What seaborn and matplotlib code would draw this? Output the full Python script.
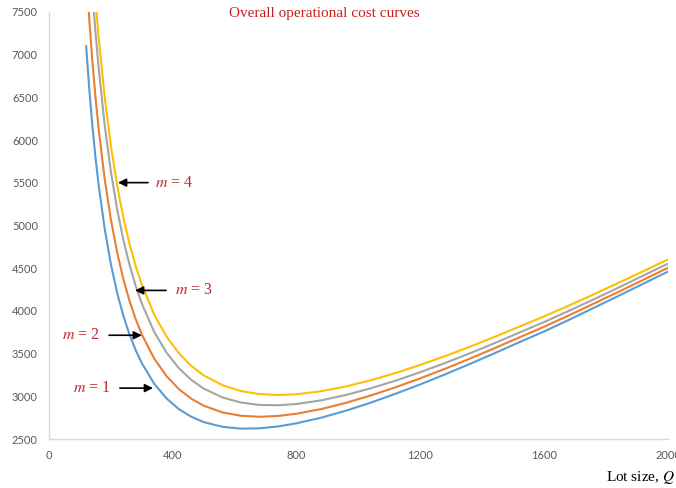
import numpy as np
import pandas as pd
import matplotlib
matplotlib.use("Agg")
import matplotlib.pyplot as plt
import seaborn as sns

# Lot size Q
lot_size = [120, 130, 140, 150, 160, 180, 200, 220, 240, 260, 280, 300, 340, 380,
            420, 460, 500, 560, 620, 680, 740, 800, 880, 960, 1040, 1120, 1200,
            1280, 1360, 1440, 1520, 1600, 1680, 1760, 1840, 1920, 2000]

cost_m1 = [7104, 6601, 6173, 5805, 5485, 4959, 4546, 4215, 3946, 3725, 3541, 3387,
           3147, 2974, 2849, 2760, 2698, 2643, 2621, 2625, 2647, 2684, 2750, 2832,
           2926, 3030, 3140, 3257, 3379, 3505, 3634, 3760, 3895, 4035, 4176, 4318, 4461]
cost_m2 = [7995, 7421, 6932, 6511, 6145, 5542, 5068, 4687, 4376, 4119, 3905, 3724,
           3441, 3235, 3083, 2971, 2890, 2812, 2772, 2760, 2770, 2796, 2851, 2924,
           3010, 3106, 3211, 3323, 3441, 3564, 3690, 3815, 3948, 4085, 4223, 4364, 4505]
cost_m3 = [8965, 8312, 7756, 7277, 6860, 6172, 5630, 5193, 4837, 4541, 4293, 4084,
           3753, 3510, 3328, 3191, 3090, 2987, 2927, 2899, 2895, 2910, 2953, 3016,
           3094, 3183, 3283, 3390, 3504, 3623, 3747, 3870, 4001, 4135, 4272, 4413, 4553]
cost_m4 = [9422, 8740, 8158, 7656, 7220, 6499, 5931, 5473, 5098, 4787, 4526, 4306,
           3956, 3697, 3503, 3356, 3245, 3131, 3061, 3026, 3015, 3024, 3060, 3116,
           3188, 3273, 3368, 3471, 3580, 3696, 3816, 3936, 4063, 4194, 4328, 4465, 4603]

series_names = ["m = 1", "m = 2", "m = 3", "m = 4"]
series_colors = ["#5B9BD5", "#ED7D31", "#A5A5A5", "#FFC000"]

x_ticks = [0, 400, 800, 1200, 1600, 2000]
y_ticks = [2500, 3000, 3500, 4000, 4500, 5000, 5500, 6000, 6500, 7000, 7500]

title_text = "Overall operational cost curves"
xlabel_text = "Lot size, $Q$"

df = pd.concat([
    pd.DataFrame({"Q": lot_size, "cost": vals, "series": name})
    for name, vals in zip(series_names, [cost_m1, cost_m2, cost_m3, cost_m4])
], ignore_index=True)

sns.set_style("white")
plt.rcParams["font.family"] = ["Lato", "DejaVu Sans"]
plt.rcParams["mathtext.fontset"] = "stix"

fig = plt.figure(figsize=(6.76, 4.88), dpi=100)
ax = fig.add_axes([49 / 676, 49 / 488, (668 - 49) / 676, (439 - 12) / 488])

sns.lineplot(data=df, x="Q", y="cost", hue="series", hue_order=series_names,
             palette=series_colors, linewidth=1.5, legend=False, ax=ax,
             sort=False, estimator=None)

ax.set_xlim(0, 2000)
ax.set_ylim(2500, 7500)
ax.set_xticks(x_ticks)
ax.set_yticks(y_ticks)
ax.set_xlabel("")
ax.set_ylabel("")
ax.tick_params(axis="both", length=0, labelsize=8, labelcolor="#595959", pad=8)
for s in ["top", "right"]:
    ax.spines[s].set_visible(False)
for s in ["left", "bottom"]:
    ax.spines[s].set_color("#D9D9D9")
    ax.spines[s].set_linewidth(1.0)

red = "#C0242B"
fig.text(324 / 676, 1 - 14 / 488, title_text, ha="center", va="center",
         color="#C81E1E", fontsize=11, family="Liberation Serif")
fig.text(675 / 676, 1 - 478 / 488, xlabel_text, ha="right", va="center",
         color="black", fontsize=11, family="Liberation Serif")

arrow_kw = dict(arrowstyle="-|>", color="black", lw=1.2, mutation_scale=12,
                shrinkA=0, shrinkB=0)
# (label, tip, tail, text pos, ha)
annots = [
    ("$m$ = 4", (223, 5502), (320, 5502), (342, 5502), "left"),
    ("$m$ = 3", (278, 4240), (378, 4240), (407, 4240), "left"),
    ("$m$ = 2", (300, 3715), (194, 3715), (165, 3715), "right"),
    ("$m$ = 1", (336, 3096), (229, 3096), (200, 3096), "right"),
]
for label, tip, tail, tpos, ha in annots:
    ax.annotate("", xy=tip, xytext=tail, arrowprops=arrow_kw)
    ax.text(tpos[0], tpos[1], label, ha=ha, va="center", color=red,
            fontsize=11.5, family="Liberation Serif")

fig.savefig("out.png", dpi=100)
